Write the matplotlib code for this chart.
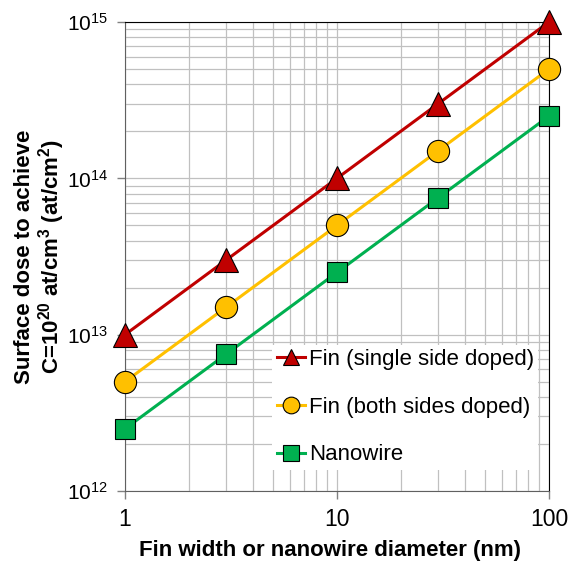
import matplotlib
matplotlib.use('Agg')
import matplotlib.pyplot as plt
from matplotlib.ticker import FuncFormatter

plt.rcParams['font.family'] = ['Liberation Sans', 'DejaVu Sans']
plt.rcParams['mathtext.fontset'] = 'custom'
plt.rcParams['mathtext.rm'] = 'Liberation Sans'
plt.rcParams['mathtext.bf'] = 'Liberation Sans:bold'

# Fin width / nanowire diameter (nm)
widths = [1, 3, 10, 30, 100]
# Surface dose (at/cm^2)
fin_single = [1e13, 3e13, 1e14, 3e14, 1e15]
fin_both = [5e12, 1.5e13, 5e13, 1.5e14, 5e14]
nanowire = [2.5e12, 7.5e12, 2.5e13, 7.5e13, 2.5e14]

fig = plt.figure(figsize=(5.69, 5.65), dpi=100)
ax = fig.add_axes([0.2197, 0.131, 0.745, 0.830])

ax.plot(widths, fin_single, color='#C00000', lw=2.2, marker='^', ms=17,
        mfc='#C00000', mec='black', mew=0.8, label='Fin (single side doped)',
        zorder=3, clip_on=False)
ax.plot(widths, fin_both, color='#FFC000', lw=2.2, marker='o', ms=16,
        mfc='#FFC000', mec='black', mew=0.8, label='Fin (both sides doped)',
        zorder=3, clip_on=False)
ax.plot(widths, nanowire, color='#00B050', lw=2.2, marker='s', ms=15,
        mfc='#00B050', mec='black', mew=0.8, label='Nanowire',
        zorder=3, clip_on=False)

ax.set_xscale('log')
ax.set_yscale('log')
ax.set_xlim(1, 100)
ax.set_ylim(1e12, 1e15)
ax.xaxis.set_major_formatter(FuncFormatter(lambda v, p: '%g' % v))

ax.grid(True, which='both', color='#c0c0c0', lw=0.9)
ax.set_axisbelow(True)
ax.tick_params(which='major', direction='out', length=6, width=1,
               color='#808080', pad=6)
ax.tick_params(axis='x', labelsize=16.5)
ax.tick_params(axis='y', labelsize=15)
ax.tick_params(which='minor', length=0)
for s in ax.spines.values():
    s.set_color('#606060')
ax.spines['top'].set_color('black')
ax.spines['right'].set_color('black')

ax.set_xlabel('Fin width or nanowire diameter (nm)', fontsize=16,
              fontweight='bold')
ax.xaxis.set_label_coords(0.483, -0.104)
ax.set_ylabel('Surface dose to achieve\n'
              r'C=10$^{\mathbf{20}}$ at/cm$^{\mathbf{3}}$ (at/cm$^{\mathbf{2}}$)',
              fontsize=16, fontweight='bold', linespacing=1.05)
ax.yaxis.set_label_coords(-0.136, 0.5)

# legend on a white box that hides the grid behind it
leg = ax.legend(loc='lower left', bbox_to_anchor=(0.347, 0.045), fontsize=16,
                frameon=True, facecolor='white', edgecolor='none', framealpha=1,
                fancybox=False, handlelength=1.3, handletextpad=0.15,
                labelspacing=1.2, borderpad=0.2, borderaxespad=0)
for h in leg.legend_handles:
    h.set_markersize(12)

fig.savefig('out.png', dpi=100)
